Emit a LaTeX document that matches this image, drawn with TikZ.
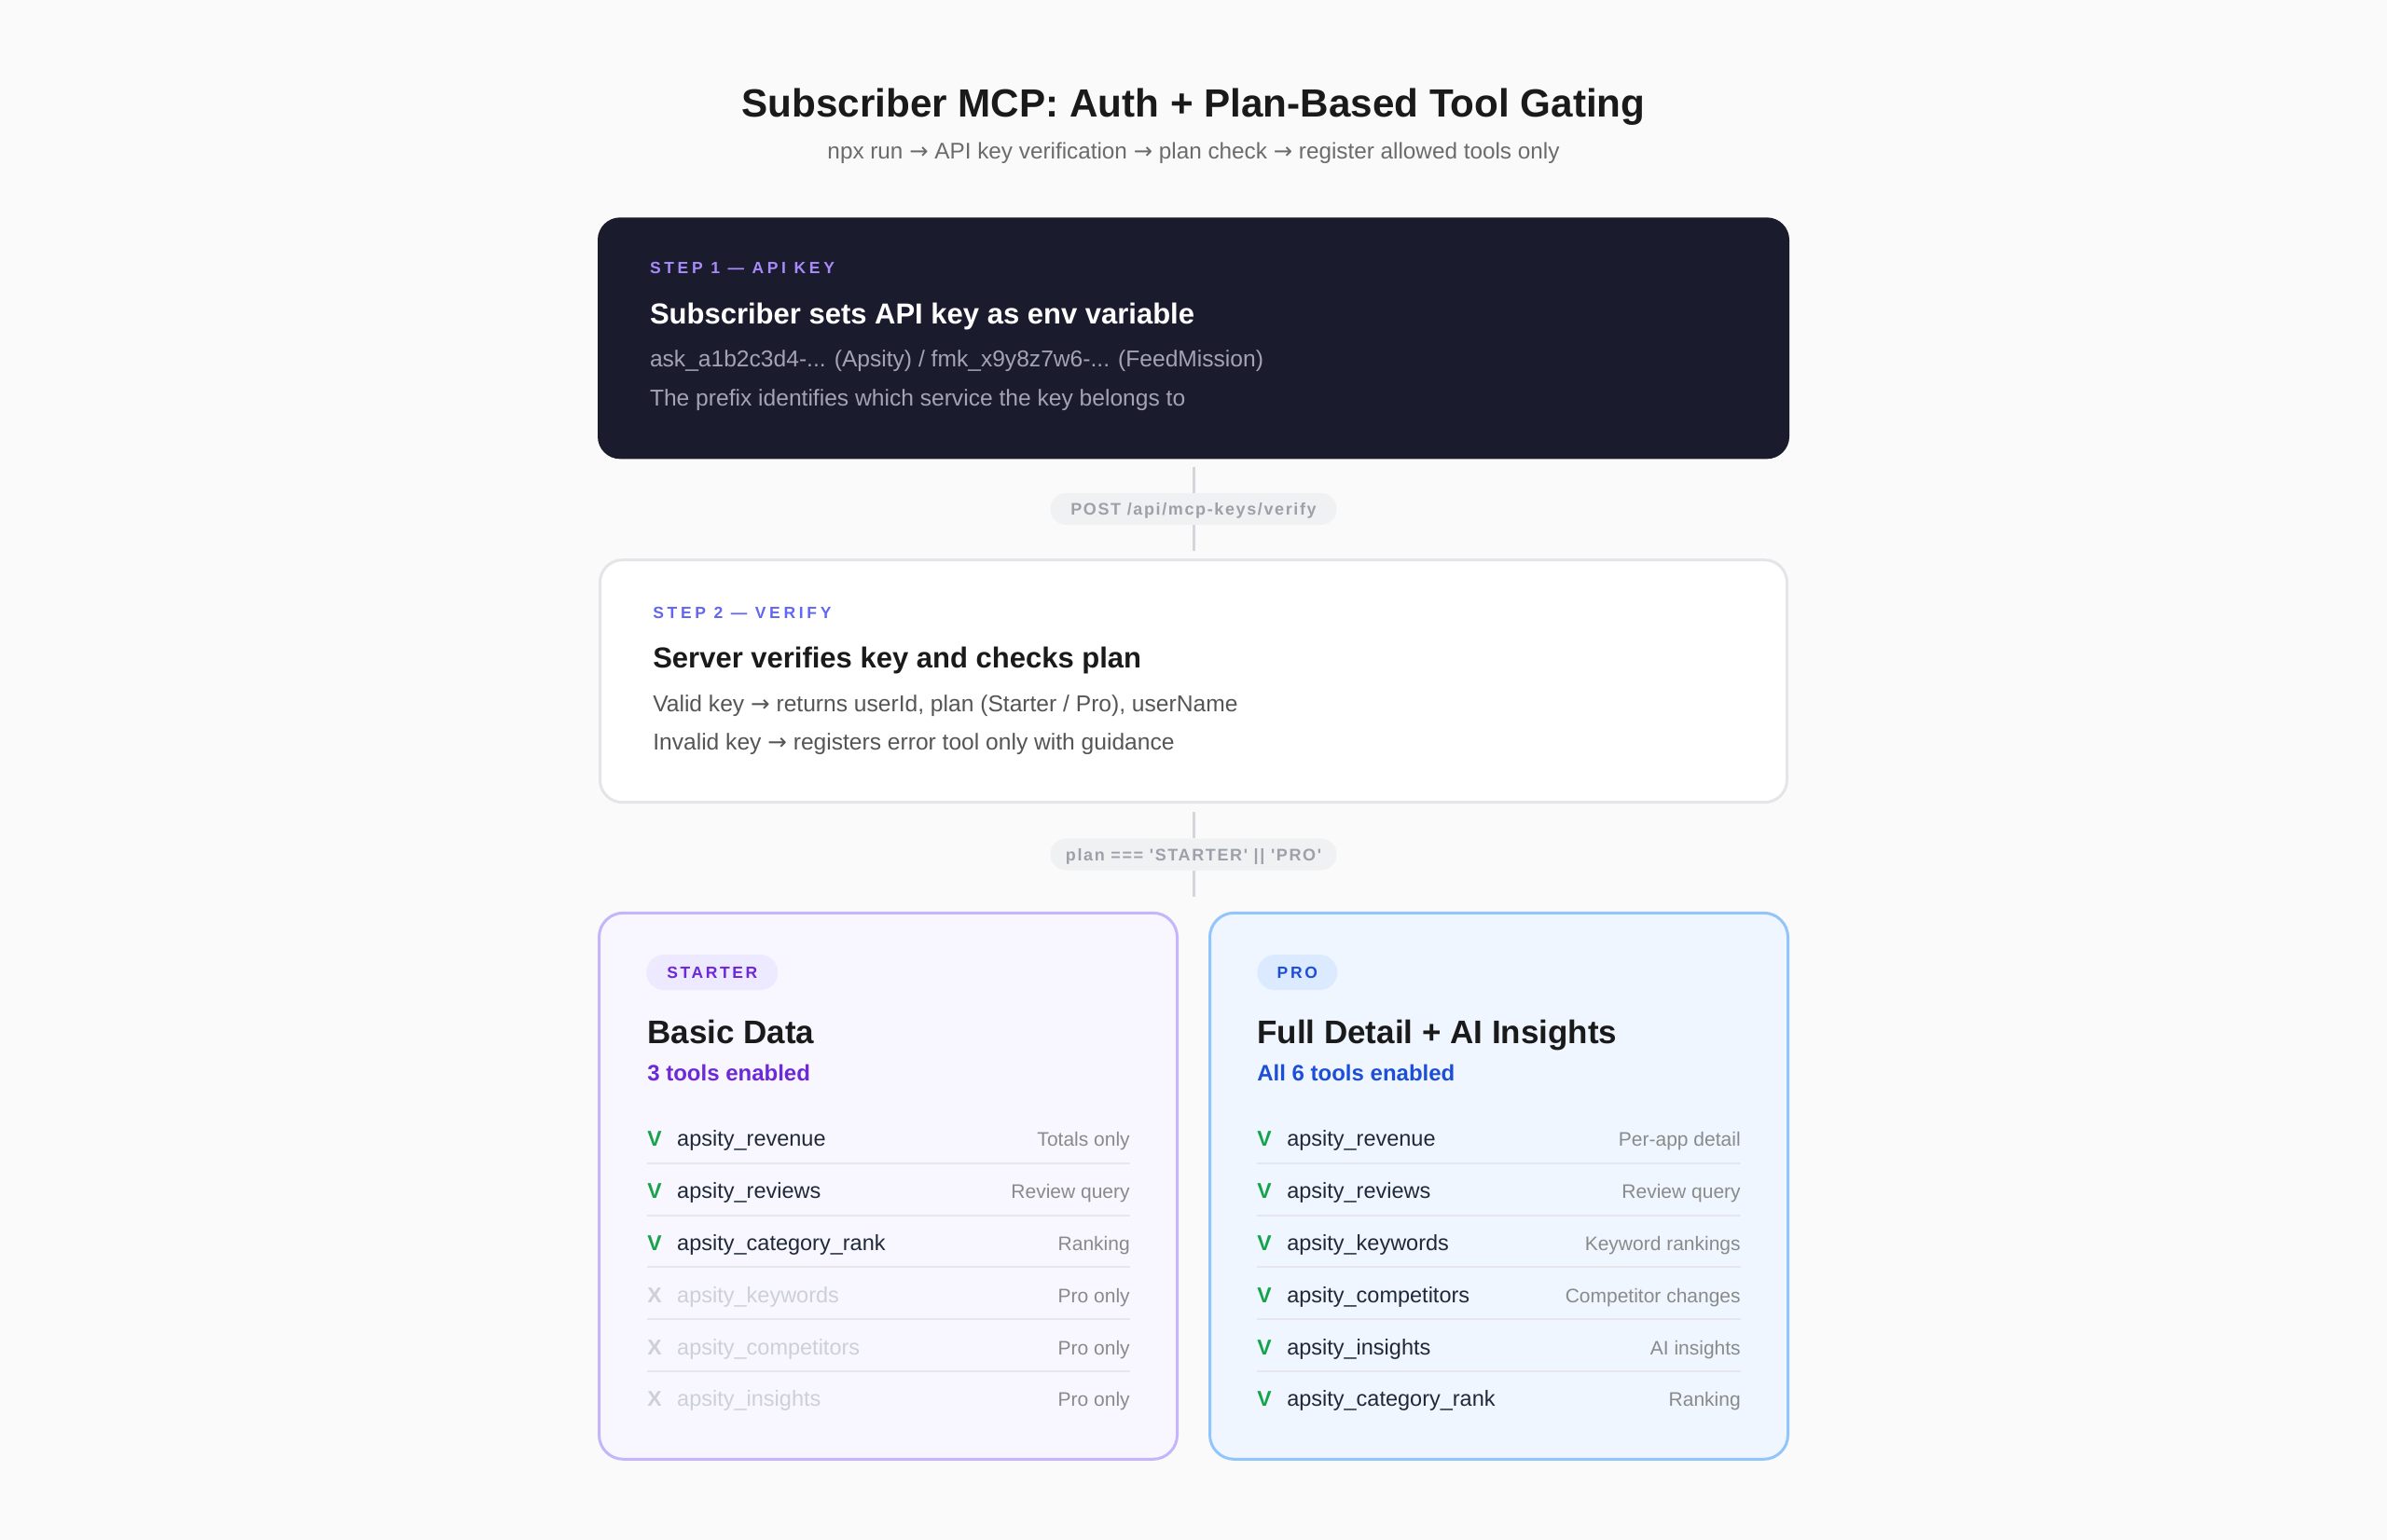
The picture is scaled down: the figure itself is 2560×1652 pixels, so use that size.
\documentclass[tikz,border=0pt]{standalone}
\usepackage{fontspec}
\setmainfont{Liberation Sans}
\newfontfamily\rawfont{Liberation Sans}[Ligatures=TeXOff]
\newfontfamily\arrowfont{DejaVu Sans}
\newcommand{\nxt}{{\arrowfont →}}
\usetikzlibrary{positioning}

\definecolor{paper}{HTML}{FAFAFA}
\definecolor{ink}{HTML}{1A1A1A}
\definecolor{slate}{HTML}{6B6B6B}
\definecolor{night}{HTML}{1B1B2E}
\definecolor{lilac}{HTML}{A78BFA}
\definecolor{indigo}{HTML}{6366F1}
\definecolor{mist}{HTML}{A3A3B5}
\definecolor{graytext}{HTML}{555555}
\definecolor{wire}{HTML}{D4D6DB}
\definecolor{pillbg}{HTML}{F0F1F3}
\definecolor{pilltext}{HTML}{9CA0A8}
\definecolor{frame}{HTML}{E4E5E8}
\definecolor{lavbg}{HTML}{F8F7FF}
\definecolor{lavline}{HTML}{C4B5FD}
\definecolor{lavpill}{HTML}{EDE9FE}
\definecolor{grape}{HTML}{6D28D9}
\definecolor{skybg}{HTML}{EFF6FF}
\definecolor{skyline}{HTML}{93C5FD}
\definecolor{skypill}{HTML}{DBEAFE}
\definecolor{royal}{HTML}{1D4ED8}
\definecolor{leaf}{HTML}{16A34A}
\definecolor{ash}{HTML}{CDD0D6}
\definecolor{toolink}{HTML}{1F2937}
\definecolor{notegray}{HTML}{8A8A8A}
\definecolor{rulegray}{HTML}{E6E6EC}

\begin{document}
\begin{tikzpicture}[
            x = 1pt, y = -1pt, % one unit per pixel, y going down
            node distance = 36pt,
            inner sep = 0pt,
            semithick
        ]

        \tikzstyle{txt}=[anchor = base west, inner sep = 0pt]
        \tikzstyle{tag}=[txt, font = \fontsize{17.5}{17.5}\selectfont\bfseries\addfontfeature{LetterSpace=21}]
        \tikzstyle{head}=[txt, font = \fontsize{31}{31}\selectfont\bfseries]
        \tikzstyle{body}=[txt, font = \fontsize{24.6}{24.6}\selectfont]
        \tikzstyle{box}=[rectangle, rounded corners = 24pt, anchor = north]
        \tikzstyle{pill}=[rectangle, rounded corners = 17pt, fill = pillbg, text = pilltext,
            minimum width = 307pt, minimum height = 34pt, text height = 13pt, text depth = 0pt,
            font = \rawfont\fontsize{18}{18}\selectfont\bfseries\addfontfeature{LetterSpace=9}]
        \tikzstyle{link}=[draw = wire, line width = 3pt]
        \tikzstyle{card}=[rectangle, rounded corners = 26pt, line width = 3pt,
            minimum width = 620pt, minimum height = 586pt]
        \tikzstyle{badge}=[rectangle, rounded corners = 19pt, minimum height = 38pt, anchor = north west,
            text height = 13pt, text depth = 0pt,
            font = \fontsize{17.5}{17.5}\selectfont\bfseries\addfontfeature{LetterSpace=15}]
        \tikzstyle{cardhead}=[txt, text = ink, font = \fontsize{35}{35}\selectfont\bfseries]
        \tikzstyle{count}=[txt, font = \fontsize{24}{24}\selectfont\bfseries]
        \tikzstyle{tick}=[txt, text height = 18pt, text depth = 0pt, font = \fontsize{23}{23}\selectfont\bfseries]
        \tikzstyle{tool}=[txt, font = \fontsize{23.5}{23.5}\selectfont]
        \tikzstyle{note}=[anchor = base east, text = notegray, font = \fontsize{21}{21}\selectfont]
        \tikzstyle{rule}=[draw = rulegray, line width = 2pt]

        \fill[paper] (0,0) rectangle (2560,1652);
        \useasboundingbox (0,0) rectangle (2560,1652);

        % title
        \node[anchor = base, text = ink, font = \fontsize{42.2}{42.2}\selectfont\bfseries] (T) at (1280,125)
            {Subscriber MCP: Auth + Plan-Based Tool Gating};
        \node[anchor = base, text = slate, font = \fontsize{24.3}{24.3}\selectfont] (U) at ([shift={(0,45)}]T.base)
            {npx run \nxt{} API key verification \nxt{} plan check \nxt{} register allowed tools only};

        % step 1
        \node[box, fill = night, minimum width = 1278pt, minimum height = 259pt] (S1) at (1280,233) {};
        \node[tag, text = lilac] (S1a) at ([shift={(56,60)}]S1.north west) {STEP 1 — API KEY};
        \node[head, text = white] (S1b) at ([shift={(0,54)}]S1a.base west) {Subscriber sets API key as env variable};
        \node[body, text = mist] (S1c) at ([shift={(0,46)}]S1b.base west) {ask\_a1b2c3d4-... (Apsity) / fmk\_x9y8z7w6-... (FeedMission)};
        \node[body, text = mist] (S1d) at ([shift={(0,42)}]S1c.base west) {The prefix identifies which service the key belongs to};

        \node[pill, below = 36pt of S1] (P1) {POST /api/mcp-keys/verify};

        % step 2
        \node[box, fill = white, draw = frame, line width = 3pt, minimum width = 1273pt, minimum height = 260pt,
            below = 36pt of P1] (S2) {};
        \node[tag, text = indigo] (S2a) at ([shift={(58,64)}]S2.north west) {STEP 2 — VERIFY};
        \node[head, text = ink] (S2b) at ([shift={(0,53)}]S2a.base west) {Server verifies key and checks plan};
        \node[body, text = graytext] (S2c) at ([shift={(0,47)}]S2b.base west) {Valid key \nxt{} returns userId, plan (Starter / Pro), userName};
        \node[body, text = graytext] (S2d) at ([shift={(0,41)}]S2c.base west) {Invalid key \nxt{} registers error tool only with guidance};

        \node[pill, below = 37pt of S2] (P2) {plan === 'STARTER' || 'PRO'};
        \coordinate[below = 28pt of P2] (F);

        \draw[link, shorten <= 8pt] (S1) -- (P1);
        \draw[link, shorten >= 8pt] (P1) -- (S2);
        \draw[link, shorten <= 9pt] (S2) -- (P2);
        \draw[link] (P2) -- (F);

        % plan cards
        \node[card, fill = lavbg, draw = lavline, below left = 44pt and 16pt of P2.south] (ST) {};
        \node[card, fill = skybg, draw = skyline, below right = 44pt and 16pt of P2.south] (PR) {};
        \coordinate (STr) at ([shift={(-52,0)}]ST.north east);
        \coordinate (PRr) at ([shift={(-52,0)}]PR.north east);

        % starter
        \node[badge, fill = lavpill, text = grape, minimum width = 141pt] (STb) at ([shift={(52,46)}]ST.north west) {STARTER};
        \node[cardhead] (STh) at ([shift={(53,142)}]ST.north west) {Basic Data};
        \node[count, text = grape] (STe) at ([shift={(0,40)}]STh.base west) {3 tools enabled};

        \node[tick, text = leaf] (sa) at ([shift={(0,70)}]STe.base west) {V};
        \node[tool, text = toolink, base right = 16pt of sa] {apsity\_revenue};
        \node[note] (na) at (sa.base -| STr) {Totals only};
        \node[tick, text = leaf, below = 37.2pt of sa] (sb) {V};
        \node[tool, text = toolink, base right = 16pt of sb] {apsity\_reviews};
        \node[note] (nb) at (sb.base -| STr) {Review query};
        \node[tick, text = leaf, below = 37.2pt of sb] (sc) {V};
        \node[tool, text = toolink, base right = 16pt of sc] {apsity\_category\_rank};
        \node[note] (nc) at (sc.base -| STr) {Ranking};
        \node[tick, text = ash, below = 37.2pt of sc] (sd) {X};
        \node[tool, text = ash, base right = 16pt of sd] {apsity\_keywords};
        \node[note] (nd) at (sd.base -| STr) {Pro only};
        \node[tick, text = ash, below = 37.2pt of sd] (se) {X};
        \node[tool, text = ash, base right = 16pt of se] {apsity\_competitors};
        \node[note] (ne) at (se.base -| STr) {Pro only};
        \node[tick, text = ash, below = 37.2pt of se] (sf) {X};
        \node[tool, text = ash, base right = 16pt of sf] {apsity\_insights};
        \node[note] (nf) at (sf.base -| STr) {Pro only};

        \draw[rule] ([yshift=-18pt]sa.base west) -- ([yshift=-18pt]na.base east);
        \draw[rule] ([yshift=-18pt]sb.base west) -- ([yshift=-18pt]nb.base east);
        \draw[rule] ([yshift=-18pt]sc.base west) -- ([yshift=-18pt]nc.base east);
        \draw[rule] ([yshift=-18pt]sd.base west) -- ([yshift=-18pt]nd.base east);
        \draw[rule] ([yshift=-18pt]se.base west) -- ([yshift=-18pt]ne.base east);

        % pro
        \node[badge, fill = skypill, text = royal, minimum width = 86pt] (PRb) at ([shift={(52,46)}]PR.north west) {PRO};
        \node[cardhead] (PRh) at ([shift={(52,142)}]PR.north west) {Full Detail + AI Insights};
        \node[count, text = royal] (PRe) at ([shift={(0,40)}]PRh.base west) {All 6 tools enabled};

        \node[tick, text = leaf] (pa) at ([shift={(0,70)}]PRe.base west) {V};
        \node[tool, text = toolink, base right = 16pt of pa] {apsity\_revenue};
        \node[note] (ma) at (pa.base -| PRr) {Per-app detail};
        \node[tick, text = leaf, below = 37.2pt of pa] (pb) {V};
        \node[tool, text = toolink, base right = 16pt of pb] {apsity\_reviews};
        \node[note] (mb) at (pb.base -| PRr) {Review query};
        \node[tick, text = leaf, below = 37.2pt of pb] (pc) {V};
        \node[tool, text = toolink, base right = 16pt of pc] {apsity\_keywords};
        \node[note] (mc) at (pc.base -| PRr) {Keyword rankings};
        \node[tick, text = leaf, below = 37.2pt of pc] (pd) {V};
        \node[tool, text = toolink, base right = 16pt of pd] {apsity\_competitors};
        \node[note] (md) at (pd.base -| PRr) {Competitor changes};
        \node[tick, text = leaf, below = 37.2pt of pd] (pe) {V};
        \node[tool, text = toolink, base right = 16pt of pe] {apsity\_insights};
        \node[note] (me) at (pe.base -| PRr) {AI insights};
        \node[tick, text = leaf, below = 37.2pt of pe] (pf) {V};
        \node[tool, text = toolink, base right = 16pt of pf] {apsity\_category\_rank};
        \node[note] (mf) at (pf.base -| PRr) {Ranking};

        \draw[rule] ([yshift=-18pt]pa.base west) -- ([yshift=-18pt]ma.base east);
        \draw[rule] ([yshift=-18pt]pb.base west) -- ([yshift=-18pt]mb.base east);
        \draw[rule] ([yshift=-18pt]pc.base west) -- ([yshift=-18pt]mc.base east);
        \draw[rule] ([yshift=-18pt]pd.base west) -- ([yshift=-18pt]md.base east);
        \draw[rule] ([yshift=-18pt]pe.base west) -- ([yshift=-18pt]me.base east);

    \end{tikzpicture}
\end{document}
